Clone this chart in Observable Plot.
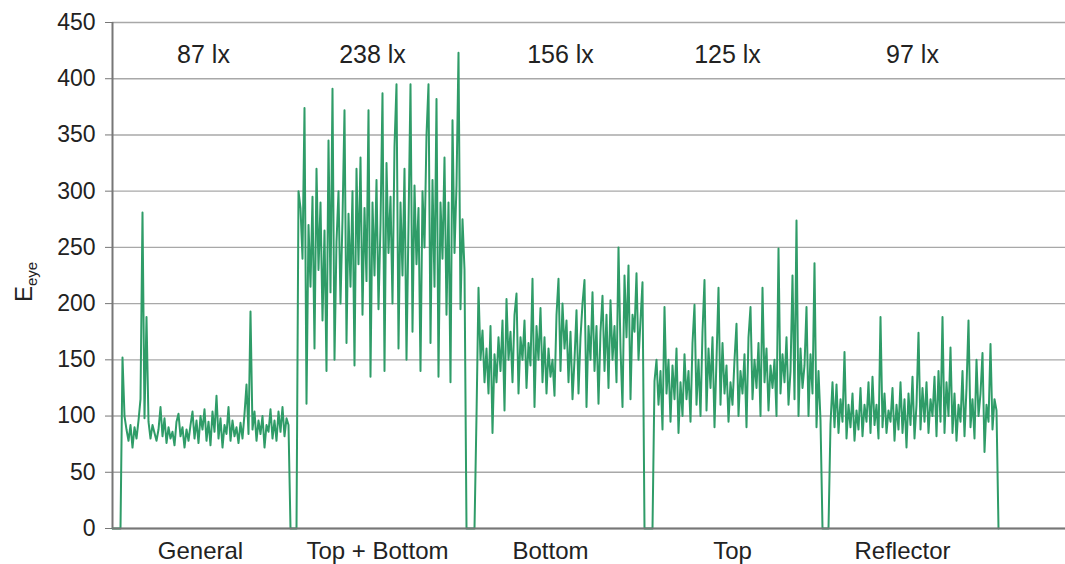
<!DOCTYPE html>
<html>
<head>
<meta charset="utf-8">
<script src="https://cdn.jsdelivr.net/npm/d3@7"></script>
<script src="https://cdn.jsdelivr.net/npm/@observablehq/plot@0.6"></script>
<style>
  html, body { margin: 0; padding: 0; background: #fff; }
</style>
</head>
<body>
<div id="chart"></div>
<script>
// Measurement series (one sample per time step), by lighting condition
const general = [152,100,88,78,92,72,90,80,96,115,281,98,188,95,80,92,85,78,88,108,82,98,76,90,80,86,74,95,102,82,90,72,88,78,92,104,80,96,76,100,88,106,78,95,74,104,86,118,80,98,72,92,84,108,78,96,82,90,76,94,80,102,128,84,193,88,104,78,96,84,100,72,92,86,106,80,96,78,104,86,108,82,98,92];
const topBottom = [300,285,240,374,111,270,215,295,160,320,230,290,185,265,140,345,210,391,150,255,300,200,275,372,165,280,215,300,145,320,235,330,190,285,220,372,135,290,225,310,195,270,387,140,325,245,295,200,340,395,160,290,225,320,150,270,395,175,305,235,285,140,300,250,350,395,165,310,215,382,135,290,240,330,190,290,130,363,245,305,423,195,275,230];
const bottom = [100,214,150,176,130,160,120,180,85,155,130,170,140,185,105,204,150,175,130,190,209,120,170,150,185,125,165,145,222,108,180,150,196,130,170,120,160,135,150,118,190,222,140,200,160,185,130,175,115,150,194,120,170,200,221,108,180,150,210,140,180,111,175,207,140,190,125,203,150,180,130,250,160,108,225,170,234,115,190,175,227,150,185,219];
const topOnly = [131,150,110,140,88,197,120,150,95,145,115,160,85,130,100,155,115,140,95,165,199,110,150,100,175,221,105,160,125,170,90,150,214,110,165,120,145,95,130,110,150,182,100,140,120,155,90,170,197,115,150,125,165,100,214,130,160,105,145,125,150,100,249,120,155,130,170,110,140,225,115,274,100,160,125,145,197,100,155,120,236,90,140,96];
const reflector = [93,130,90,128,85,115,95,157,80,110,90,120,78,105,88,125,82,110,95,130,85,135,92,110,80,188,90,120,85,105,95,125,78,110,88,130,85,115,72,120,92,135,80,110,174,88,125,95,130,85,115,100,135,82,140,95,188,85,130,100,161,85,120,78,110,95,140,82,125,185,90,115,80,150,100,120,156,68,110,95,164,88,115,105];

// zero-reading samples before each segment and after the last one
const gapLengths = [5, 4, 5, 5, 4, 1];

const categories = ["General", "Top + Bottom", "Bottom", "Top", "Reflector"];
const categoryTickPos = [44, 132.5, 219, 310, 395];
const luxLabels = ["87 lx", "238 lx", "156 lx", "125 lx", "97 lx"];
const luxLabelPos = [45.5, 130, 224, 307.5, 400];
const yTicks = [0, 50, 100, 150, 200, 250, 300, 350, 400, 450];

const segments = [general, topBottom, bottom, topOnly, reflector];
const values = [];
segments.forEach((seg, s) => {
  for (let k = 0; k < gapLengths[s]; k++) values.push(0);
  seg.forEach(v => values.push(v));
});
for (let k = 0; k < gapLengths[5]; k++) values.push(0);
const data = values.map((v, i) => ({i, v}));

const luxData = luxLabels.map((t, j) => ({t, x: luxLabelPos[j]}));

const font = "'Liberation Sans', Arial, Helvetica, sans-serif";

const chart = Plot.plot({
  width: 1065,
  height: 564,
  marginLeft: 112,
  marginRight: 0,
  marginTop: 22,
  marginBottom: 36,
  style: {fontFamily: font, fontSize: "22px", color: "#222", background: "#fff"},
  x: {domain: [0, 476.5], axis: null},
  y: {domain: [0, 450], axis: null},
  marks: [
    Plot.gridY(yTicks, {stroke: "#a8a8a8", strokeOpacity: 1, strokeWidth: 1.4}),
    Plot.axisY(yTicks, {tickSize: 7, tickPadding: 10, stroke: "#777", fontSize: 23, fill: "#222", label: null}),
    Plot.axisX(categoryTickPos, {
      tickSize: 0, tickPadding: 13, fontSize: 24, fill: "#222", label: null,
      tickFormat: (d) => categories[categoryTickPos.indexOf(d)]
    }),
    Plot.line(data, {x: "i", y: "v", stroke: "#2f9c68", strokeWidth: 2}),
    Plot.ruleY([0], {stroke: "#777", strokeWidth: 2}),
    Plot.ruleX([0], {stroke: "#777", strokeWidth: 2}),
    Plot.text(luxData, {x: "x", text: "t", frameAnchor: "top", lineAnchor: "top", dy: 23, fontSize: 25, fill: "#222"})
  ]
});

document.getElementById("chart").appendChild(chart);

// y-axis title with subscript
const svg = d3.select(chart);
const lbl = svg.append("text")
  .attr("transform", "translate(32,282) rotate(-90)")
  .attr("text-anchor", "middle")
  .attr("font-family", font)
  .attr("fill", "#222");
lbl.append("tspan").attr("font-size", 24).text("E");
lbl.append("tspan").attr("font-size", 15).attr("dy", 5).text("eye");
</script>
</body>
</html>
